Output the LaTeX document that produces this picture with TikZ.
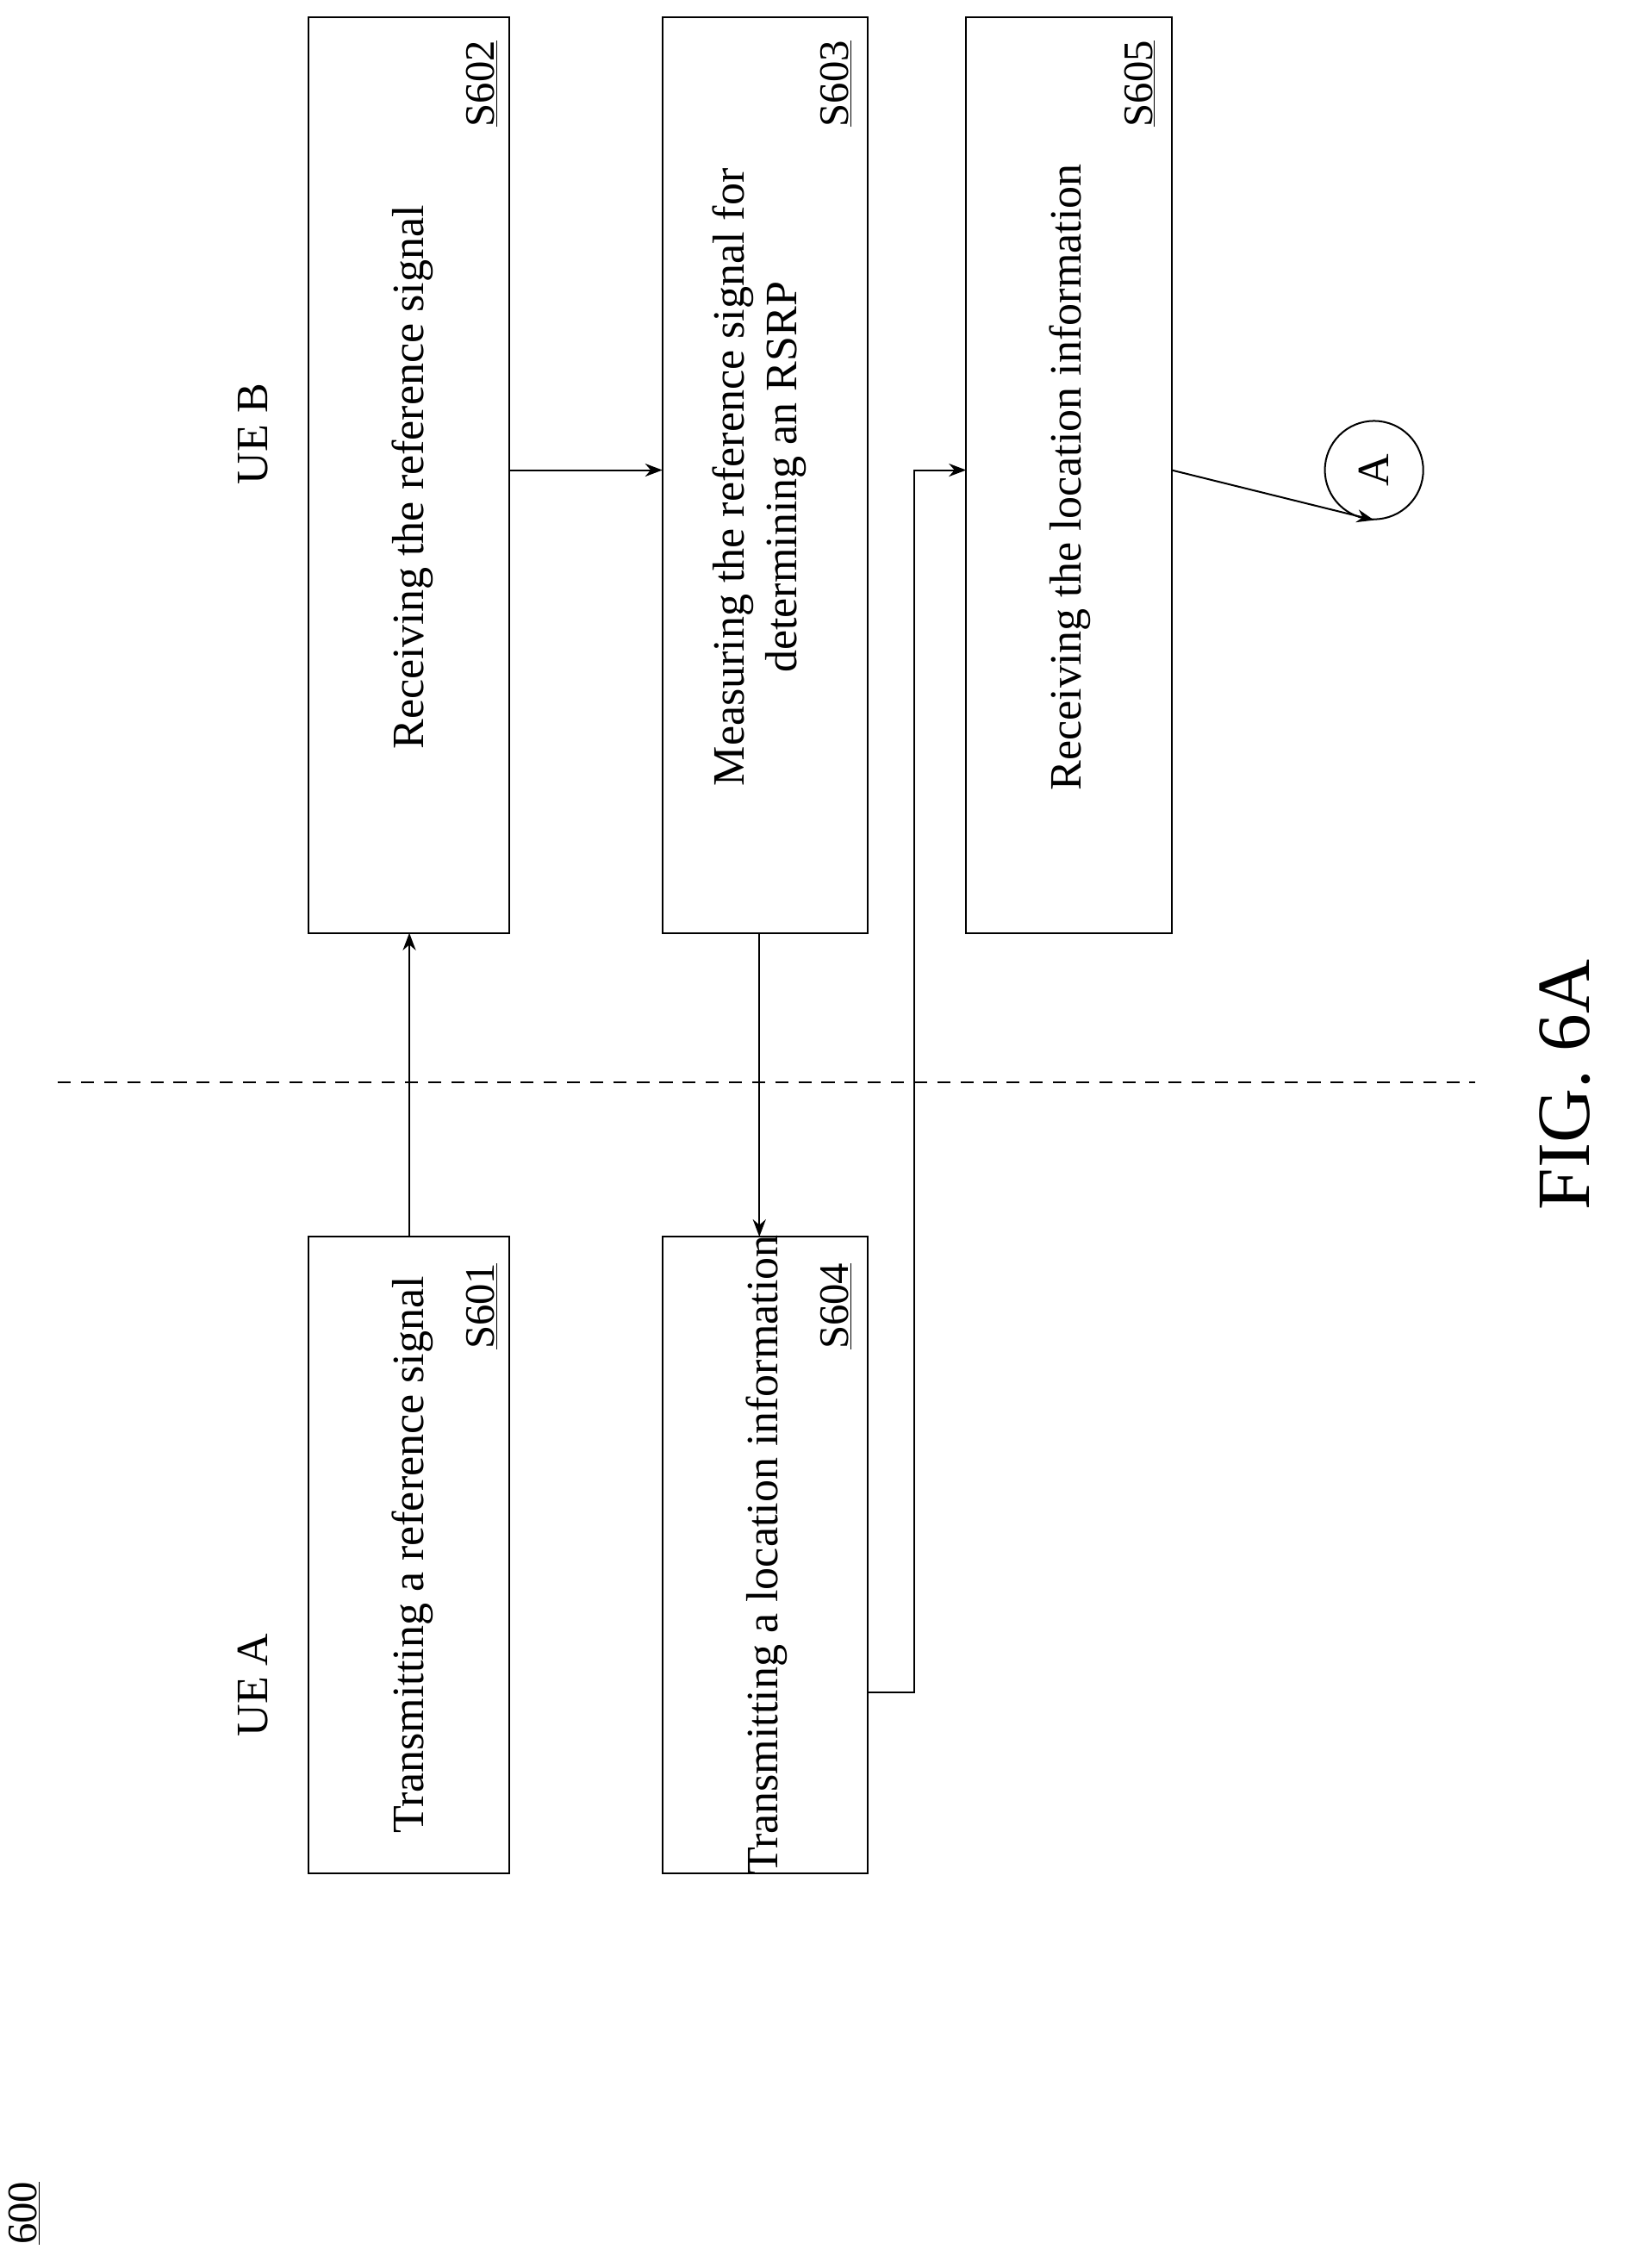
\documentclass[tikz,border=0pt]{standalone}
\usepackage{fontspec}
\setmainfont{Liberation Serif}
\usetikzlibrary{arrows.meta}
\begin{document}
\begin{tikzpicture}[x=1pt,y=-1pt,
 box/.style={draw,line width=1.2pt},
 txt/.style={rotate=90,font=\fontsize{31}{36}\selectfont,align=center},
 lab/.style={rotate=90,font=\fontsize{29}{34}\selectfont},
 arr/.style={-{Stealth[length=12pt,width=9pt]},line width=1.2pt}]
\useasboundingbox (0,0) rectangle (1128,1568);
\node[box,minimum width=139pt,minimum height=440pt] (b1) at (282.5,1075) {};
\node[box,minimum width=142pt,minimum height=440pt] (b4) at (529,1075) {};
\node[box,minimum width=139pt,minimum height=633pt] (b2) at (282.5,328.5) {};
\node[box,minimum width=142pt,minimum height=633pt] (b3) at (529,328.5) {};
\node[box,minimum width=142pt,minimum height=633pt] (b5) at (739,328.5) {};
\node[txt] (t1) at (285,1075) {Transmitting a reference signal};
\node[txt] (t2) at (285,330) {Receiving the reference signal};
\node[txt] (t3) at (525,330) {Measuring the reference signal for\\determining an RSRP};
\node[txt] (t4) at (530,1075) {Transmitting a location information};
\node[txt] (t5) at (740,330) {Receiving the location information};
\node[lab] (l1) at (333,903) {\underline{S601}};
\node[lab] (l2) at (333,58) {\underline{S602}};
\node[lab] (l3) at (578,58) {\underline{S603}};
\node[lab] (l4) at (578,903) {\underline{S604}};
\node[lab] (l5) at (788,58) {\underline{S605}};
\node[txt] (ua) at (175,1165) {UE A};
\node[txt] (ub) at (175,300) {UE B};
\node[lab] (n600) at (17,1530) {\underline{600}};
\node[rotate=90,font=\fontsize{52}{60}\selectfont] (fig) at (1082,750) {FIG. 6A};
\node[draw,circle,line width=1.2pt,minimum size=68pt,inner sep=0pt,rotate=90,font=\fontsize{31}{36}\selectfont] (A) at (950,325) {A};
\draw[dashed,line width=1.2pt,dash pattern=on 9pt off 7pt] (40,748) coordinate (d1) -- (1020,748) coordinate (d2);
\draw[arr] (b1.north -| 283,0) -- (283,645);
\draw[arr] (352,325) -- (458,325);
\draw[arr] (525,645) -- (525,855);
\draw[arr] (600,1170) -- (632,1170) -- (632,325) -- (668,325);
\draw[arr] (810,325) -- (A.west);
\end{tikzpicture}
\end{document}
